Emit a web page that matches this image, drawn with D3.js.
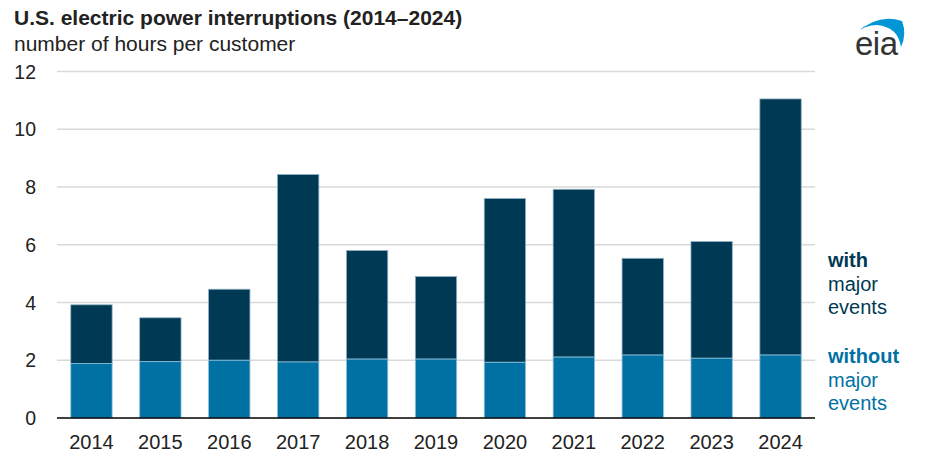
<!DOCTYPE html>
<html>
<head>
<meta charset="utf-8">
<script src="https://cdn.jsdelivr.net/npm/d3@7"></script>
<style>
  body { margin: 0; background: #fff; }
  svg { font-family: "Liberation Sans", Arial, sans-serif; }
</style>
</head>
<body>
<div id="chart"></div>
<script>
// data
var years = ["2014","2015","2016","2017","2018","2019","2020","2021","2022","2023","2024"];
var withoutMajor = [1.89, 1.95, 2.00, 1.94, 2.04, 2.04, 1.93, 2.11, 2.18, 2.07, 2.18];
var withMajor    = [3.92, 3.47, 4.46, 8.43, 5.80, 4.90, 7.60, 7.92, 5.53, 6.11, 11.05];
var yTicks = [0, 2, 4, 6, 8, 10, 12];

var width = 928, height = 461;
var darkColor = "#003953", lightColor = "#0071a2";

var svg = d3.select("#chart")
    .append("svg")
    .attr("width", width)
    .attr("height", height);

var x = d3.scaleBand()
    .domain(years)
    .range([57, 815])
    .paddingInner(0.4)
    .paddingOuter(0.2);

var y = d3.scaleLinear()
    .domain([0, 12])
    .range([418, 71.5]);

// gridlines
svg.append("g")
    .selectAll("line")
    .data(yTicks.filter(function(d){ return d > 0; }))
    .enter().append("line")
    .attr("x1", 57)
    .attr("x2", 815)
    .attr("y1", function(d){ return y(d); })
    .attr("y2", function(d){ return y(d); })
    .style("stroke", "#d9d9d9")
    .style("stroke-width", 1.5);

// y tick labels
svg.append("g")
    .selectAll("text")
    .data(yTicks)
    .enter().append("text")
    .attr("x", 36)
    .attr("y", function(d){ return y(d) + 7; })
    .attr("text-anchor", "end")
    .style("font-size", "19.5px")
    .style("fill", "#222")
    .text(function(d){ return d; });

// stacked bars: upper part (major events) then the base part
svg.append("g")
    .selectAll("rect")
    .data(years)
    .enter().append("rect")
    .attr("x", function(d){ return x(d); })
    .attr("width", x.bandwidth())
    .attr("y", function(d, i){ return y(withMajor[i]); })
    .attr("height", function(d, i){ return y(withoutMajor[i]) - y(withMajor[i]); })
    .style("fill", darkColor)
    .style("stroke", "#8fb0c4")
    .style("stroke-width", 0.8);

svg.append("g")
    .selectAll("rect")
    .data(years)
    .enter().append("rect")
    .attr("x", function(d){ return x(d); })
    .attr("width", x.bandwidth())
    .attr("y", function(d, i){ return y(withoutMajor[i]); })
    .attr("height", function(d, i){ return y(0) - y(withoutMajor[i]); })
    .style("fill", lightColor)
    .style("stroke", "#8fc0dc")
    .style("stroke-width", 0.8);

// baseline
svg.append("line")
    .attr("x1", 57)
    .attr("x2", 815)
    .attr("y1", y(0))
    .attr("y2", y(0))
    .style("stroke", "#000")
    .style("stroke-width", 1.5);

// x axis labels
svg.append("g")
    .selectAll("text")
    .data(years)
    .enter().append("text")
    .attr("x", function(d){ return x(d) + x.bandwidth() / 2; })
    .attr("y", 449)
    .attr("text-anchor", "middle")
    .style("font-size", "20px")
    .style("fill", "#222")
    .text(function(d){ return d; });

// title + subtitle
svg.append("text")
    .attr("x", 14)
    .attr("y", 25)
    .style("font-size", "21px")
    .style("font-weight", "bold")
    .style("fill", "#222")
    .text("U.S. electric power interruptions (2014\u20132024)");

svg.append("text")
    .attr("x", 14)
    .attr("y", 51)
    .style("font-size", "21px")
    .style("fill", "#222")
    .text("number of hours per customer");

// legend labels on the right
var legend = [
    {lines: ["with", "major", "events"], color: darkColor, y: 267},
    {lines: ["without", "major", "events"], color: lightColor, y: 363}
];
legend.forEach(function(l){
    var t = svg.append("text")
        .attr("x", 828)
        .attr("y", l.y)
        .style("font-size", "20px")
        .style("fill", l.color);
    l.lines.forEach(function(s, k){
        t.append("tspan")
            .attr("x", 828)
            .attr("dy", k === 0 ? 0 : 23.5)
            .style("font-weight", k === 0 ? "bold" : "normal")
            .text(s);
    });
});

// eia logo
svg.append("path")
    .attr("d", "M856,33 Q878,13 902,21 Q907,34 901,47 Q898,27 877,25 Q865,25 856,33 Z")
    .style("fill", "#0096d6");

svg.append("text")
    .attr("x", 855)
    .attr("y", 55)
    .style("font-size", "33px")
    .style("fill", "#333")
    .style("letter-spacing", "-0.5px")
    .text("eia");
</script>
</body>
</html>
